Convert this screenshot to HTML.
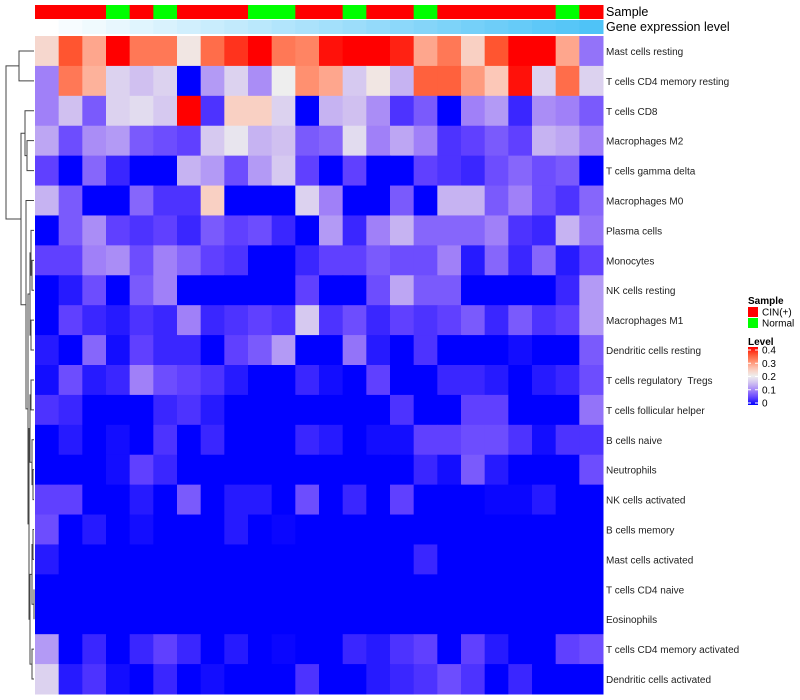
<!DOCTYPE html>
<html><head><meta charset="utf-8"><style>
body{margin:0;background:#fff;}
svg{display:block;font-family:"Liberation Sans",sans-serif;}
</style></head><body>
<svg id="chart" width="800" height="700"></svg>
<script>
const rowNames=["Mast cells resting","T cells CD4 memory resting","T cells CD8","Macrophages M2","T cells gamma delta","Macrophages M0","Plasma cells","Monocytes","NK cells resting","Macrophages M1","Dendritic cells resting","T cells regulatory  Tregs","T cells follicular helper","B cells naive","Neutrophils","NK cells activated","B cells memory","Mast cells activated","T cells CD4 naive","Eosinophils","T cells CD4 memory activated","Dendritic cells activated"];
const sampleGroups=["CIN(+)","CIN(+)","CIN(+)","Normal","CIN(+)","Normal","CIN(+)","CIN(+)","CIN(+)","Normal","Normal","CIN(+)","CIN(+)","Normal","CIN(+)","CIN(+)","Normal","CIN(+)","CIN(+)","CIN(+)","CIN(+)","CIN(+)","Normal","CIN(+)"];
const geneLevel=[0,1,2,3,4,5,6,7,8,9,10,11,12,13,14,15,16,17,18,19,20,21,22,23];
const values=[
[0.23,0.35,0.28,0.4,0.32,0.32,0.21,0.33,0.37,0.4,0.32,0.31,0.39,0.4,0.4,0.38,0.28,0.32,0.24,0.35,0.4,0.4,0.28,0.09],
[0.1,0.32,0.27,0.17,0.15,0.17,0,0.12,0.17,0.11,0.2,0.3,0.28,0.16,0.21,0.14,0.34,0.34,0.29,0.25,0.39,0.17,0.33,0.17],
[0.1,0.15,0.07,0.17,0.18,0.16,0.4,0.04,0.24,0.24,0.17,0,0.14,0.15,0.11,0.04,0.07,0,0.1,0.12,0.03,0.11,0.1,0.07],
[0.13,0.06,0.11,0.12,0.07,0.06,0.05,0.16,0.19,0.14,0.15,0.07,0.08,0.18,0.1,0.13,0.1,0.04,0.05,0.07,0.05,0.14,0.13,0.1],
[0.05,0,0.08,0.03,0,0,0.14,0.12,0.06,0.12,0.16,0.05,0,0.05,0,0,0.05,0.04,0.03,0.06,0.08,0.06,0.07,0],
[0.14,0.07,0,0,0.08,0.04,0.04,0.24,0,0,0,0.17,0.1,0,0,0.07,0,0.14,0.14,0.07,0.1,0.06,0.04,0.08],
[0,0.07,0.11,0.05,0.04,0.05,0.03,0.07,0.05,0.06,0.03,0,0.12,0.03,0.1,0.14,0.08,0.08,0.08,0.1,0.04,0.03,0.14,0.09],
[0.05,0.05,0.1,0.11,0.06,0.1,0.08,0.05,0.04,0,0,0.03,0.05,0.05,0.07,0.06,0.06,0.1,0.02,0.08,0.03,0.08,0.02,0.05],
[0,0.02,0.06,0,0.07,0.1,0,0,0,0,0,0.05,0,0,0.06,0.13,0.07,0.07,0,0,0,0,0.03,0.12],
[0,0.05,0.03,0.02,0.04,0.03,0.1,0.03,0.04,0.05,0.04,0.16,0.04,0.06,0.03,0.05,0.04,0.05,0.07,0.03,0.07,0.04,0.05,0.12],
[0.02,0,0.08,0.01,0.05,0.03,0.03,0,0.05,0.07,0.12,0,0,0.09,0.02,0,0.04,0,0,0,0.01,0,0,0.07],
[0.01,0.06,0.02,0.03,0.1,0.06,0.05,0.04,0.02,0,0,0.03,0.01,0,0.05,0,0,0.03,0.03,0.02,0,0.02,0.03,0.06],
[0.04,0.03,0,0,0,0.03,0.04,0.02,0,0,0,0,0,0,0,0.04,0,0,0.05,0.05,0,0,0,0.09],
[0,0.02,0,0.01,0,0.04,0,0.03,0,0,0,0.03,0.02,0,0.01,0.01,0.05,0.05,0.06,0.06,0.04,0.01,0.04,0.04],
[0,0,0,0.01,0.05,0.03,0,0,0,0,0,0,0,0,0,0,0.03,0.01,0.07,0.02,0,0,0,0.06],
[0.05,0.05,0,0,0.02,0,0.07,0,0.02,0.02,0,0.06,0,0.03,0,0.05,0,0,0,0.005,0.005,0.02,0,0],
[0.06,0,0.02,0,0.01,0,0,0,0.02,0,0.005,0,0,0,0,0,0,0,0,0,0,0,0,0],
[0.02,0,0,0,0,0,0,0,0,0,0,0,0,0,0,0,0.03,0,0,0,0,0,0,0],
[0,0,0,0,0,0,0,0,0,0,0,0,0,0,0,0,0,0,0,0,0,0,0,0],
[0,0,0,0,0,0,0,0,0,0,0,0,0,0,0,0,0,0,0,0,0,0,0,0],
[0.12,0,0.03,0,0.03,0.05,0.03,0,0.02,0,0.005,0,0,0.03,0.02,0.04,0.05,0,0.05,0.02,0,0,0.05,0.06],
[0.17,0.02,0.04,0.01,0,0.03,0,0.01,0,0,0,0.04,0,0,0.02,0.03,0.04,0.06,0.04,0,0.03,0,0,0]
];
const legendTicks=[0,0.1,0.2,0.3,0.4];

const NS="http://www.w3.org/2000/svg";
const svg=document.getElementById('chart');
const X0=35,X1=603,Y0=36,Y1=694;
const nC=24,nR=rowNames.length;
const cw=(X1-X0)/nC,rh=(Y1-Y0)/nR;
const xPos=i=>X0+i*cw, yPos=j=>Y0+j*rh;
const stops=[[0,[0,0,255]],[0.05,[96,64,255]],[0.1,[160,128,248]],[0.15,[208,192,240]],[0.2,[238,238,238]],[0.25,[252,200,184]],[0.3,[255,144,112]],[0.35,[255,85,48]],[0.4,[255,0,0]]];
function col(v){v=Math.max(0,Math.min(0.4,v));for(let k=1;k<stops.length;k++){if(v<=stops[k][0]){const a=stops[k-1],b=stops[k];const t=(v-a[0])/(b[0]-a[0]);const c=a[1].map((q,i)=>Math.round(q+(b[1][i]-q)*t));return `rgb(${c})`;}}return 'rgb(255,0,0)';}
function mk(tag,at,parent){const e=document.createElementNS(NS,tag);for(const k in at)e.setAttribute(k,at[k]);(parent||svg).appendChild(e);return e;}

const gS=mk('g',{});


const gG=mk('g',{});


const maxG=Math.max(...geneLevel);
sampleGroups.forEach((s,i)=>{
  const r=mk('rect',{x:xPos(i),y:5,width:cw+0.5,height:14,fill:s==="Normal"?"#00ff00":"#ff0000"},gS);
  
  
  const t=geneLevel[i]/maxG;
  const c=[255+(79-255)*t,255+(195-255)*t,255+(247-255)*t].map(Math.round);
  const g=mk('rect',{x:xPos(i),y:20,width:cw+0.5,height:14,fill:`rgb(${c})`},gG);
  
  
});
const gH=mk('g',{});


values.forEach((row,j)=>row.forEach((v,i)=>{
  const r=mk('rect',{x:xPos(i),y:yPos(j),width:cw+0.5,height:rh+0.5,fill:col(v)},gH);
  
  
}));
rowNames.forEach((n,j)=>{
  const t=mk('text',{x:606,y:yPos(j)+rh/2+4,'font-size':10,fill:'#222',style:'white-space:pre'});
  t.textContent=n;
  
  
});
[["Sample",16],["Gene expression level",31]].forEach(([n,y])=>{
  const t=mk('text',{x:606,y:y,'font-size':12.5,fill:'#000'});
  t.textContent=n;
  
  
});
const tree=[6,[19,0,1],[21,[25,2,[27,3,4]],[26,5,[28,[30,[31,6,[32,7,8]],[31,9,10]],[29,[30,[31,11,12],[32,13,[33,14,15]]],[30,[32,[33,16,17],[34,18,19]],[32,20,21]]]]]]];
const gD=mk('g',{stroke:'#444','stroke-width':1,fill:'none'});


function draw(n){
  if(typeof n==='number')return [X0-1,yPos(n)+rh/2];
  const a=draw(n[1]),b=draw(n[2]),x=n[0];
  mk('path',{d:`M${a[0]},${a[1]}H${x}V${b[1]}H${b[0]}`},gD);
  return [x,(a[1]+b[1])/2];
}
draw(tree);
const gL=mk('g',{});


function txt(s,x,y,sz,w,p){const t=mk('text',{x:x,y:y,'font-size':sz,'font-weight':w||'normal',fill:'#000'},p);t.textContent=s;return t;}
const lt=txt("Sample",748,304,10,'bold',gL);


[["CIN(+)","#ff0000",307],["Normal","#00ff00",318]].forEach(([n,c,y])=>{
  const r=mk('rect',{x:748,y:y,width:10,height:10,fill:c},gL);
  
  
  const t=txt(n,762,y+8.5,10,null,gL);
  
  
});
const l2=txt("Level",748,345,10,'bold',gL);


const defs=mk('defs',{});
const lg=mk('linearGradient',{id:'lvl',x1:0,y1:1,x2:0,y2:0},defs);
for(let k=0;k<=20;k++){const v=0.4*k/20;mk('stop',{offset:k/20,'stop-color':col(v)},lg);}
const cb=mk('rect',{x:748,y:347,width:10,height:58,fill:'url(#lvl)'},gL);


const cy=v=>403-(v/0.4)*53;
legendTicks.forEach(v=>{
  mk('line',{x1:748,x2:751,y1:cy(v),y2:cy(v),stroke:'#fff'},gL);
  mk('line',{x1:755,x2:758,y1:cy(v),y2:cy(v),stroke:'#fff'},gL);
  const t=txt(String(v),762,cy(v)+3.5,10,null,gL);
  
  
});
</script>
</body></html>
